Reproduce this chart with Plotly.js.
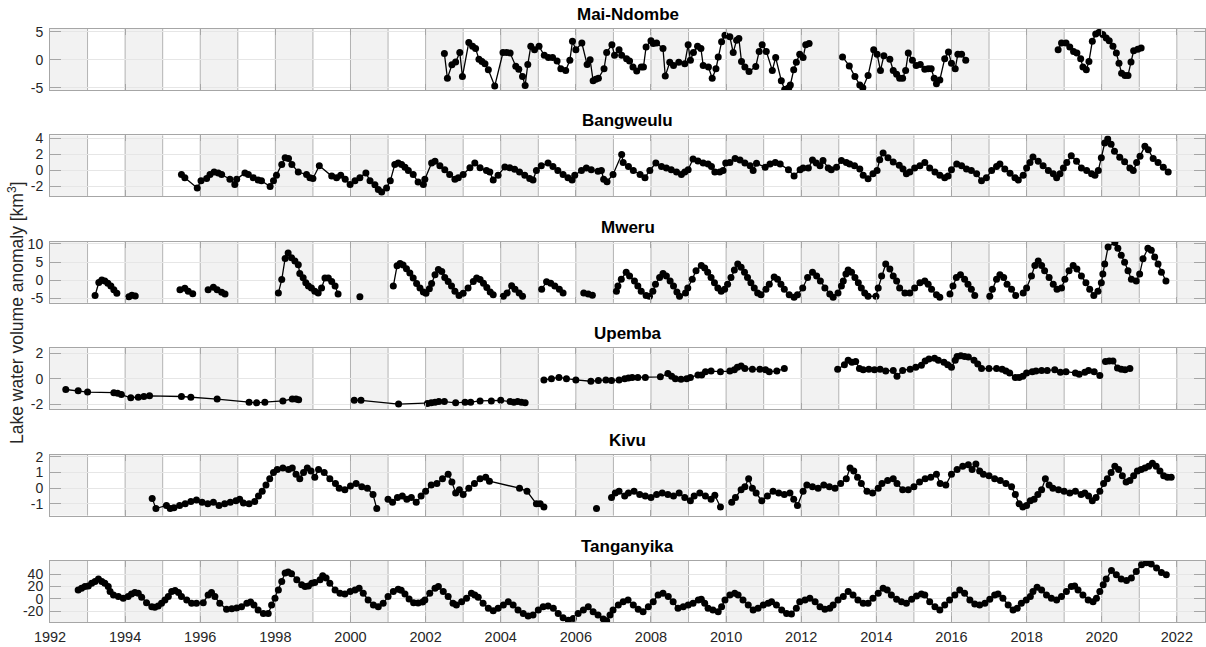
<!DOCTYPE html>
<html>
<head>
<meta charset="utf-8">
<script src="https://cdn.plot.ly/plotly-3.0.1.min.js"></script>
<style>
html,body{margin:0;padding:0;background:#ffffff;}
#chart{width:1206px;height:647px;}
</style>
</head>
<body>
<div id="chart"></div>
<script>
// ---------------- DATA ----------------
// Each lake: list of [decimal year, volume anomaly km^3]; null = break in the line
const lakeNames = ['Mai-Ndombe', 'Bangweulu', 'Mweru', 'Upemba', 'Kivu', 'Tanganyika'];
const xTickYears = [1992,1994,1996,1998,2000,2002,2004,2006,2008,2010,2012,2014,2016,2018,2020,2022];
const xTickLabels = ['1992','1994','1996','1998','2000','2002','2004','2006','2008','2010','2012','2014','2016','2018','2020','2022'];
const yTickValues = [[-5,0,5],[-2,0,2,4],[-5,0,5,10],[-2,0,2],[-1,0,1,2],[-20,0,20,40]];
const yTickLabels = [['-5','0','5'],['-2','0','2','4'],['-5','0','5','10'],['-2','0','2'],['-1','0','1','2'],['-20','0','20','40']];

const maiNdombe = [
[2002.50,1.1],[2002.58,-3.3],[2002.70,-0.9],[2002.80,-0.4],[2002.91,1.3],[2002.98,-3.0],[2003.15,3.1],[2003.25,2.4],[2003.33,2.0],[2003.42,0.1],
[2003.50,-0.3],[2003.58,-0.7],[2003.67,-1.8],[2003.84,-4.7],[2004.06,1.3],[2004.16,1.3],[2004.25,1.2],[2004.40,-1.15],[2004.48,-1.7],[2004.58,-3.0],
[2004.65,-4.6],[2004.72,-0.85],[2004.80,2.4],[2004.90,1.8],[2005.02,2.4],[2005.16,0.8],[2005.27,0.4],[2005.38,0.4],[2005.50,-0.2],[2005.60,-1.6],
[2005.73,-1.9],[2005.84,-0.1],[2005.91,3.3],[2006.00,1.8],[2006.16,3.0],[2006.30,-0.85],[2006.38,0.0],[2006.46,-3.75],[2006.53,-3.5],[2006.60,-3.3],
[2006.75,-1.6],[2006.82,1.3],[2006.96,2.7],[2007.03,0.8],[2007.15,1.8],[2007.22,0.8],[2007.35,0.2],[2007.43,-0.2],[2007.52,-1.3],[2007.62,-2.0],
[2007.74,-1.3],[2007.80,-1.3],[2007.87,2.3],[2008.00,3.4],[2008.06,2.9],[2008.15,3.0],[2008.32,2.0],[2008.38,-2.9],[2008.50,-0.45],[2008.60,-1.0],
[2008.74,-0.45],[2008.90,-0.7],[2008.99,2.7],[2009.05,-0.1],[2009.13,1.3],[2009.24,2.4],[2009.33,2.0],[2009.39,-1.0],[2009.53,-1.3],[2009.63,-3.3],
[2009.73,-1.6],[2009.79,0.5],[2009.88,3.2],[2009.97,4.4],[2010.10,4.1],[2010.19,1.3],[2010.28,3.5],[2010.34,3.8],[2010.41,-0.3],[2010.50,-1.3],
[2010.61,-2.1],[2010.79,-1.2],[2010.88,1.5],[2010.96,2.7],[2011.07,1.5],[2011.23,-1.9],[2011.32,0.4],[2011.47,-3.75],[2011.56,-5.3],[2011.62,-5.2],
[2011.67,-5.0],[2011.71,-4.5],[2011.80,-1.8],[2011.87,-0.45],[2011.96,1.0],[2012.05,0.4],[2012.12,2.7],[2012.21,2.9],
null,
[2013.10,0.5],[2013.28,-1.1],[2013.43,-3.0],[2013.56,-4.5],[2013.64,-5.0],[2013.78,-2.8],[2013.93,1.8],[2014.02,1.0],[2014.11,-1.9],[2014.20,0.7],
[2014.36,0.1],[2014.45,-1.9],[2014.54,-2.6],[2014.62,-3.3],[2014.70,-3.3],[2014.78,-1.9],[2014.85,1.2],[2014.96,-0.1],[2015.06,-1.0],[2015.17,-0.85],
[2015.29,-1.7],[2015.38,-1.6],[2015.46,-1.6],[2015.54,-3.3],[2015.60,-4.3],[2015.69,-3.6],[2015.82,0.2],[2015.92,1.4],[2016.00,-0.6],[2016.10,-1.6],
[2016.17,1.0],[2016.27,1.0],[2016.38,-0.1],
null,
[2018.84,1.8],[2018.93,3.0],[2019.05,3.0],[2019.15,2.3],[2019.25,1.5],[2019.34,1.2],[2019.44,0.2],[2019.50,-1.3],[2019.59,-1.8],[2019.66,-0.3],
[2019.75,3.3],[2019.84,4.6],[2019.93,4.9],[2020.03,4.5],[2020.12,3.9],[2020.20,3.4],[2020.30,2.4],[2020.39,1.2],[2020.46,-0.6],[2020.53,-2.4],
[2020.62,-2.8],[2020.70,-2.8],[2020.78,-0.4],[2020.85,1.6],[2020.96,1.9],[2021.05,2.1]
];

const bangweulu = [
[1995.50,-0.5],[1995.59,-0.9],[1995.92,-2.2],[1996.02,-1.3],[1996.17,-1.0],[1996.26,-0.5],[1996.37,-0.2],[1996.48,-0.3],[1996.57,-0.5],[1996.79,-1.1],
[1996.92,-1.75],[1996.97,-1.1],[1997.19,-0.3],[1997.28,-0.5],[1997.41,-0.9],[1997.54,-1.2],[1997.63,-1.3],[1997.86,-2.0],[1997.95,-1.3],[1998.03,-0.6],
[1998.17,0.75],[1998.26,1.6],[1998.35,1.5],[1998.44,0.75],[1998.61,-0.2],[1998.83,-0.5],[1998.92,-0.9],[1999.00,-1.0],[1999.17,0.6],[1999.50,-0.7],
[1999.63,-0.9],[1999.74,-0.6],[1999.86,-1.1],[1999.99,-1.75],[2000.12,-1.3],[2000.25,-0.9],[2000.41,-0.3],[2000.52,-1.3],[2000.65,-1.8],[2000.74,-2.4],
[2000.83,-2.7],[2000.96,-2.2],[2001.06,-1.3],[2001.18,0.75],[2001.27,0.95],[2001.36,0.75],[2001.45,0.4],[2001.54,0.0],[2001.67,-0.5],[2001.80,-1.45],
[2001.94,-1.75],[2001.98,-1.1],[2002.16,0.95],[2002.25,1.15],[2002.38,0.6],[2002.51,0.1],[2002.64,-0.5],[2002.78,-1.1],[2002.87,-0.9],[2003.00,-0.5],
[2003.18,0.35],[2003.31,0.95],[2003.45,0.35],[2003.62,0.0],[2003.71,-0.2],[2003.80,-1.2],[2003.93,-0.6],[2004.11,0.45],[2004.24,0.35],[2004.37,0.15],
[2004.50,-0.2],[2004.64,-0.6],[2004.77,-1.0],[2004.86,-1.2],[2004.95,0.0],[2005.08,0.6],[2005.26,0.95],[2005.39,0.5],[2005.52,0.0],[2005.66,-0.5],
[2005.79,-0.9],[2005.90,-1.2],[2005.97,-0.6],[2006.15,0.0],[2006.28,0.3],[2006.41,0.1],[2006.59,-0.1],[2006.68,0.0],[2006.74,-1.1],[2006.83,-1.4],
[2006.99,-0.5],[2007.22,2.0],[2007.26,1.0],[2007.40,0.5],[2007.53,0.0],[2007.71,-0.5],[2007.84,-0.9],[2007.97,0.0],[2008.13,0.95],[2008.28,0.5],
[2008.41,0.3],[2008.54,0.1],[2008.68,-0.2],[2008.81,-0.5],[2008.90,-0.2],[2008.99,0.1],[2009.12,1.45],[2009.25,1.2],[2009.39,0.95],[2009.52,0.8],
[2009.61,0.5],[2009.70,-0.2],[2009.83,-0.2],[2009.92,0.0],[2009.99,0.95],[2010.10,1.0],[2010.24,1.5],[2010.37,1.3],[2010.50,0.95],[2010.64,0.6],
[2010.72,0.0],[2010.81,0.9],[2011.04,0.4],[2011.17,0.8],[2011.31,1.0],[2011.44,0.8],[2011.66,0.1],[2011.81,-0.7],[2011.97,0.1],[2012.05,0.3],
[2012.19,0.3],[2012.30,1.3],[2012.40,0.95],[2012.50,0.6],[2012.58,1.25],[2012.72,0.3],[2012.80,0.1],[2012.94,0.4],[2013.07,1.25],[2013.20,1.0],
[2013.29,0.8],[2013.42,0.6],[2013.56,0.2],[2013.65,-0.6],[2013.78,-1.05],[2013.91,-0.4],[2014.02,0.0],[2014.09,1.35],[2014.18,2.2],[2014.31,1.6],
[2014.45,1.05],[2014.61,0.65],[2014.71,0.2],[2014.80,-0.4],[2014.89,-0.2],[2015.02,0.3],[2015.16,0.6],[2015.29,1.0],[2015.42,0.3],[2015.56,-0.2],
[2015.69,-0.6],[2015.82,-0.9],[2015.91,-0.7],[2016.00,0.1],[2016.14,0.8],[2016.27,0.6],[2016.40,0.2],[2016.53,0.0],[2016.67,-0.4],[2016.80,-1.3],
[2016.93,-0.9],[2017.07,0.0],[2017.20,0.5],[2017.29,0.8],[2017.42,0.2],[2017.56,-0.35],[2017.69,-0.9],[2017.78,-1.2],[2017.91,-0.6],[2018.00,0.3],
[2018.09,1.0],[2018.17,1.7],[2018.31,1.15],[2018.44,0.6],[2018.58,0.0],[2018.71,-0.4],[2018.80,-0.9],[2018.89,-0.4],[2018.98,0.3],[2019.07,1.0],
[2019.19,1.85],[2019.33,1.15],[2019.46,0.3],[2019.60,0.0],[2019.73,-0.4],[2019.82,-0.6],[2019.91,0.0],[2019.99,1.6],[2020.08,3.45],[2020.16,3.95],
[2020.25,3.3],[2020.34,2.4],[2020.48,1.65],[2020.61,1.1],[2020.75,0.3],[2020.84,0.0],[2020.93,1.0],[2021.02,1.8],[2021.15,3.05],[2021.24,2.6],
[2021.37,1.5],[2021.50,1.0],[2021.64,0.4],[2021.77,-0.2]
];

const mweru = [
[1993.20,-4.2],[1993.30,-0.6],[1993.38,0.1],[1993.46,-0.2],[1993.54,-0.8],[1993.62,-1.6],[1993.70,-2.6],[1993.78,-3.6],
null,
[1994.10,-4.5],[1994.18,-4.1],[1994.27,-4.3],
null,
[1995.46,-2.6],[1995.59,-2.2],[1995.68,-3.0],[1995.80,-3.7],
null,
[1996.21,-2.6],[1996.35,-1.9],[1996.45,-2.6],[1996.57,-3.3],[1996.66,-3.8],
null,
[1998.08,-3.5],[1998.17,0.2],[1998.26,6.0],[1998.34,7.5],[1998.43,6.2],[1998.52,5.3],[1998.61,4.3],[1998.65,1.9],[1998.74,0.7],[1998.81,-0.7],
[1998.88,-1.6],[1998.96,-2.1],[1999.05,-3.0],[1999.14,-3.5],[1999.23,-2.1],[1999.32,0.6],[1999.41,0.6],[1999.50,-0.3],[1999.59,-1.6],[1999.67,-3.8],
null,
[2000.25,-4.5],
null,
[2001.14,-1.6],[2001.24,4.0],[2001.32,4.6],[2001.40,4.2],[2001.49,3.2],[2001.58,2.0],[2001.67,0.6],[2001.76,-0.9],[2001.85,-2.1],[2001.94,-3.2],
[2002.01,-3.6],[2002.10,-2.3],[2002.16,-0.9],[2002.25,1.5],[2002.34,3.0],[2002.43,2.4],[2002.51,0.8],[2002.60,-0.3],[2002.69,-1.6],[2002.78,-3.0],
[2002.89,-4.2],[2003.00,-3.6],[2003.13,-2.1],[2003.27,-0.3],[2003.36,0.6],[2003.45,0.2],[2003.54,-0.8],[2003.63,-2.0],[2003.72,-3.2],[2003.80,-4.0],
null,
[2004.07,-4.4],[2004.17,-3.5],[2004.29,-1.5],[2004.38,-2.5],[2004.49,-3.5],[2004.58,-4.4],
null,
[2005.09,-2.5],[2005.22,-0.4],[2005.33,-0.8],[2005.44,-1.6],[2005.56,-2.5],[2005.66,-3.5],
null,
[2006.21,-3.5],[2006.33,-3.8],[2006.44,-4.1],
null,
[2007.08,-3.0],[2007.12,-1.6],[2007.21,0.3],[2007.34,2.2],[2007.43,1.2],[2007.56,-0.2],[2007.65,-1.6],[2007.74,-3.0],[2007.87,-4.2],[2007.96,-4.4],
[2008.05,-3.0],[2008.12,-1.1],[2008.23,0.75],[2008.32,1.9],[2008.41,1.2],[2008.51,-0.2],[2008.60,-1.6],[2008.69,-3.2],[2008.76,-4.4],[2008.92,-3.5],
[2008.98,-2.1],[2009.10,0.3],[2009.20,2.6],[2009.34,4.1],[2009.43,3.4],[2009.51,2.2],[2009.60,0.75],[2009.69,-0.7],[2009.78,-2.1],[2009.87,-3.0],
[2009.96,-2.5],[2010.04,-1.1],[2010.13,0.75],[2010.22,2.8],[2010.31,4.5],[2010.40,3.6],[2010.49,2.2],[2010.57,0.75],[2010.66,-0.7],[2010.75,-2.1],
[2010.84,-3.5],[2010.93,-4.0],[2011.06,-2.5],[2011.15,-1.1],[2011.28,0.9],[2011.37,0.3],[2011.46,-1.1],[2011.55,-2.5],[2011.68,-4.0],[2011.81,-4.7],
[2011.90,-4.0],[2012.04,-2.1],[2012.17,0.75],[2012.30,2.2],[2012.41,1.2],[2012.51,-0.2],[2012.63,-2.1],[2012.76,-3.8],[2012.85,-4.7],[2012.98,-3.5],
[2013.07,-1.6],[2013.12,-0.2],[2013.19,1.7],[2013.25,2.8],[2013.34,2.2],[2013.43,0.75],[2013.52,-0.7],[2013.60,-2.1],[2013.69,-3.5],[2013.78,-4.4],
[2013.99,-4.4],[2014.05,-2.1],[2014.14,1.2],[2014.25,4.5],[2014.36,3.1],[2014.45,1.2],[2014.54,-0.2],[2014.62,-2.1],[2014.76,-3.5],[2014.89,-3.5],
[2015.02,-2.1],[2015.16,-0.7],[2015.29,-0.2],[2015.38,-1.1],[2015.47,-2.5],[2015.60,-4.0],[2015.69,-4.7],
null,
[2015.96,-3.8],[2016.04,-1.6],[2016.13,0.75],[2016.24,1.5],[2016.35,0.3],[2016.44,-1.1],[2016.53,-2.5],[2016.62,-4.2],
null,
[2017.02,-4.4],[2017.09,-2.5],[2017.20,0.3],[2017.29,1.5],[2017.39,0.75],[2017.48,-1.1],[2017.60,-2.5],[2017.71,-4.2],
null,
[2017.91,-3.5],[2018.00,-2.1],[2018.13,1.2],[2018.22,4.1],[2018.31,5.3],[2018.40,4.1],[2018.48,2.6],[2018.60,0.75],[2018.71,-1.1],[2018.81,-2.5],
[2018.93,-2.1],[2019.02,0.3],[2019.13,2.6],[2019.24,4.1],[2019.34,3.1],[2019.46,1.2],[2019.58,-0.7],[2019.68,-2.5],[2019.79,-4.2],[2019.90,-3.0],
[2019.99,-0.7],[2020.03,1.7],[2020.08,4.5],[2020.17,9.2],[2020.35,10.4],[2020.43,8.8],[2020.52,6.9],[2020.61,5.0],[2020.70,2.6],[2020.79,0.3],
[2020.92,-0.2],[2021.01,1.7],[2021.10,5.9],[2021.23,8.8],[2021.32,8.3],[2021.41,6.4],[2021.50,4.5],[2021.59,2.2],[2021.71,-0.2]
];

const upemba = [
[1992.42,-0.85],[1992.75,-0.95],[1993.00,-1.05],[1993.70,-1.1],[1993.80,-1.15],[1993.90,-1.25],[1994.15,-1.5],[1994.35,-1.45],[1994.50,-1.4],[1994.65,-1.35],
[1995.50,-1.4],[1995.75,-1.45],[1996.45,-1.6],[1997.30,-1.85],[1997.50,-1.9],[1997.72,-1.85],[1998.20,-1.75],[1998.45,-1.6],[1998.55,-1.6],[1998.62,-1.65],
null,
[2000.10,-1.7],[2000.28,-1.7],[2001.28,-2.0],[2002.05,-1.95],[2002.15,-1.9],[2002.25,-1.85],[2002.35,-1.8],[2002.50,-1.8],[2002.80,-1.9],[2003.05,-1.85],
[2003.20,-1.85],[2003.45,-1.75],[2003.75,-1.75],[2004.00,-1.7],[2004.25,-1.8],[2004.35,-1.85],[2004.45,-1.8],[2004.55,-1.85],[2004.65,-1.9],
null,
[2005.15,-0.1],[2005.35,0.0],[2005.55,0.1],[2005.75,0.0],[2006.00,-0.1],[2006.40,-0.2],[2006.60,-0.15],[2006.80,-0.1],[2006.95,-0.15],[2007.15,-0.1],
[2007.30,0.0],[2007.40,0.05],[2007.50,0.1],[2007.65,0.1],[2007.85,0.1],[2008.25,0.15],[2008.45,0.4],[2008.55,0.2],[2008.65,0.0],[2008.80,-0.05],
[2008.95,0.0],[2009.05,0.1],[2009.25,0.3],[2009.35,0.3],[2009.45,0.55],[2009.60,0.6],[2009.85,0.55],[2010.10,0.6],[2010.22,0.7],[2010.30,0.9],
[2010.40,1.0],[2010.50,0.8],[2010.70,0.75],[2010.90,0.75],[2011.05,0.7],[2011.15,0.55],[2011.35,0.6],[2011.55,0.8],
null,
[2012.97,0.75],[2013.15,1.1],[2013.25,1.45],[2013.35,1.3],[2013.45,1.35],[2013.55,0.8],[2013.65,0.7],[2013.80,0.75],[2013.95,0.7],[2014.10,0.75],
[2014.25,0.6],[2014.45,0.65],[2014.55,0.2],[2014.70,0.65],[2014.90,0.75],[2015.05,0.9],[2015.20,1.05],[2015.30,1.4],[2015.40,1.55],[2015.55,1.6],
[2015.65,1.45],[2015.80,1.3],[2015.90,1.1],[2016.00,0.9],[2016.10,1.45],[2016.15,1.75],[2016.25,1.8],[2016.35,1.75],[2016.45,1.7],[2016.60,1.45],
[2016.70,1.15],[2016.80,0.8],[2017.00,0.8],[2017.20,0.8],[2017.35,0.75],[2017.45,0.6],[2017.55,0.45],[2017.70,0.1],[2017.80,0.1],[2017.90,0.2],
[2018.00,0.45],[2018.15,0.55],[2018.25,0.6],[2018.40,0.65],[2018.55,0.65],[2018.75,0.7],[2018.90,0.5],[2019.05,0.55],[2019.30,0.45],[2019.40,0.35],
[2019.55,0.5],[2019.65,0.65],[2019.80,0.55],[2019.95,0.25],
null,
[2020.10,1.35],[2020.20,1.4],[2020.30,1.4],[2020.42,0.85],[2020.52,0.75],[2020.62,0.7],[2020.75,0.8]
];

const kivu = [
[1994.72,-0.65],[1994.82,-1.3],[1995.10,-1.1],[1995.20,-1.3],[1995.30,-1.25],[1995.45,-1.1],[1995.60,-1.0],[1995.75,-0.85],[1995.90,-0.75],[1996.05,-0.9],
[1996.20,-1.0],[1996.35,-0.9],[1996.50,-1.1],[1996.65,-1.0],[1996.80,-0.9],[1996.95,-0.8],[1997.05,-0.7],[1997.15,-0.95],[1997.30,-1.0],[1997.45,-0.85],
[1997.55,-0.5],[1997.65,-0.2],[1997.75,0.2],[1997.85,0.6],[1997.95,1.0],[1998.05,1.2],[1998.20,1.3],[1998.35,1.2],[1998.45,1.3],[1998.55,0.9],
[1998.65,0.6],[1998.75,1.0],[1998.85,1.3],[1998.95,1.1],[1999.05,0.7],[1999.15,1.2],[1999.30,1.0],[1999.45,0.6],[1999.60,0.3],[1999.70,0.0],
[1999.85,-0.1],[2000.00,0.15],[2000.15,0.3],[2000.30,0.1],[2000.45,0.0],[2000.60,-0.4],[2000.70,-1.3],
null,
[2001.00,-0.7],[2001.12,-0.9],[2001.25,-0.6],[2001.38,-0.5],[2001.50,-0.7],[2001.62,-0.6],[2001.75,-0.9],[2001.88,-0.5],[2002.00,-0.2],[2002.15,0.2],
[2002.30,0.3],[2002.45,0.6],[2002.60,0.9],[2002.70,0.4],[2002.80,-0.3],[2002.90,-0.1],[2003.00,-0.4],[2003.15,0.0],[2003.30,0.3],[2003.45,0.6],
[2003.60,0.7],[2003.70,0.45],[2004.50,0.0],[2004.70,-0.2],[2004.95,-1.0],[2005.05,-1.0],[2005.15,-1.2],
null,
[2006.55,-1.3],
null,
[2006.95,-0.6],[2007.05,-0.3],[2007.15,-0.2],[2007.30,-0.5],[2007.40,-0.3],[2007.55,-0.2],[2007.70,-0.4],[2007.85,-0.5],[2008.00,-0.6],[2008.15,-0.4],
[2008.30,-0.3],[2008.45,-0.4],[2008.60,-0.5],[2008.75,-0.3],[2008.90,-0.6],[2009.05,-0.8],[2009.15,-0.5],[2009.30,-0.3],[2009.45,-0.5],[2009.60,-0.7],
[2009.70,-0.45],[2009.85,-1.2],
null,
[2010.15,-0.9],[2010.25,-0.6],[2010.40,-0.1],[2010.50,0.1],[2010.60,0.6],[2010.70,0.0],[2010.80,-0.3],[2010.95,-0.8],[2011.10,-0.5],[2011.25,-0.2],
[2011.40,-0.3],[2011.55,-0.4],[2011.70,-0.3],[2011.80,-0.7],[2011.90,-1.1],[2012.05,-0.2],[2012.15,0.2],[2012.30,0.1],[2012.45,0.0],[2012.60,0.2],
[2012.75,0.1],[2012.90,0.0],[2013.05,0.3],[2013.20,0.6],[2013.30,1.3],[2013.40,1.1],[2013.50,0.7],[2013.60,0.3],[2013.75,-0.2],[2013.90,-0.3],
[2014.05,0.0],[2014.15,0.3],[2014.30,0.5],[2014.45,0.6],[2014.55,0.3],[2014.70,-0.1],[2014.85,-0.1],[2015.00,0.1],[2015.15,0.4],[2015.30,0.6],
[2015.45,0.7],[2015.60,0.9],[2015.70,0.3],[2015.85,0.2],[2016.00,0.9],[2016.15,1.2],[2016.30,1.4],[2016.45,1.5],[2016.55,1.2],[2016.65,1.55],
[2016.75,1.1],[2016.85,0.9],[2017.00,0.8],[2017.15,0.6],[2017.30,0.5],[2017.45,0.3],[2017.60,0.1],[2017.70,-0.4],[2017.80,-1.0],[2017.90,-1.2],
[2018.00,-1.1],[2018.10,-0.8],[2018.20,-0.7],[2018.30,-0.4],[2018.40,-0.1],[2018.50,0.6],[2018.60,0.2],[2018.70,0.0],[2018.85,-0.1],[2019.00,-0.2],
[2019.15,-0.3],[2019.30,-0.2],[2019.45,-0.4],[2019.55,-0.3],[2019.65,-0.5],[2019.75,-0.8],[2019.85,-0.6],[2019.95,-0.2],[2020.05,0.3],[2020.15,0.6],
[2020.25,1.0],[2020.35,1.4],[2020.45,1.2],[2020.55,0.8],[2020.65,0.4],[2020.75,0.5],[2020.85,0.8],[2020.95,1.1],[2021.05,1.2],[2021.15,1.3],
[2021.25,1.4],[2021.35,1.6],[2021.45,1.4],[2021.55,1.1],[2021.65,0.8],[2021.75,0.7],[2021.85,0.7]
];

const tanganyika = [
[1992.75,14.6],[1992.84,17.3],[1992.93,20],[1993.02,21],[1993.11,25.4],[1993.20,28],[1993.29,31.9],[1993.38,28],[1993.46,25.4],[1993.55,20],
[1993.60,11.9],[1993.69,6.5],[1993.82,3.8],[1993.95,1.1],[1994.08,3.8],[1994.17,8.1],[1994.26,10.3],[1994.35,9.2],[1994.44,2.7],[1994.57,-5.9],
[1994.71,-12.4],[1994.79,-13.5],[1994.88,-11.3],[1994.97,-7],[1995.06,-1.6],[1995.15,3.8],[1995.24,11.9],[1995.33,13.5],[1995.42,10.3],[1995.50,3.8],
[1995.64,-1.6],[1995.77,-7],[1995.90,-7],[1996.08,-5.9],[1996.21,6.5],[1996.30,10.3],[1996.39,3.8],[1996.52,-7],[1996.70,-16.7],[1996.84,-15.7],
[1996.97,-14.6],[1997.10,-12.4],[1997.24,-7],[1997.34,-4.9],[1997.43,-9.7],[1997.54,-17.8],[1997.68,-23.2],[1997.81,-23.2],[1997.90,-9.7],[1997.99,1.1],
[1998.08,14.6],[1998.17,28],[1998.26,41.6],[1998.34,43.2],[1998.43,40.5],[1998.57,30.8],[1998.70,22.7],[1998.79,20],[1998.88,21],[1998.97,25.4],
[1999.05,26.5],[1999.19,30.8],[1999.26,37.3],[1999.35,33.5],[1999.45,25.4],[1999.59,14.6],[1999.72,9.2],[1999.85,8.1],[1999.99,11.9],[2000.12,14.6],
[2000.23,17.3],[2000.34,9.2],[2000.47,-1.6],[2000.61,-9.7],[2000.74,-12.4],[2000.87,-7],[2001.00,3.8],[2001.14,11.9],[2001.27,15.7],[2001.35,14],
[2001.45,8],[2001.56,0],[2001.68,-5.9],[2001.80,-6.5],[2001.92,-5],[2001.98,-1.6],[2002.11,9.2],[2002.25,17.3],[2002.34,20],[2002.47,11.9],
[2002.60,3.8],[2002.73,-7],[2002.82,-9.7],[2002.96,-4.3],[2003.09,1.1],[2003.22,9.2],[2003.31,6.5],[2003.40,2.7],[2003.53,-7],[2003.67,-15.1],
[2003.80,-18.9],[2003.93,-15.1],[2004.07,-9.7],[2004.20,-4.3],[2004.33,-9.7],[2004.46,-17.8],[2004.60,-23.2],[2004.73,-27.5],[2004.86,-25.9],[2005.00,-17.8],
[2005.13,-12.4],[2005.26,-11.3],[2005.40,-15.1],[2005.53,-23.2],[2005.66,-30],[2005.80,-34],[2005.93,-31.3],[2006.06,-23.2],[2006.20,-17.8],[2006.33,-12.4],
[2006.46,-20.5],[2006.59,-25.9],[2006.73,-32],[2006.82,-35],
null,
[2006.91,-25.9],[2006.99,-17.8],[2007.13,-9.7],[2007.26,-4.3],[2007.39,-1.6],[2007.53,-9.7],[2007.66,-16.7],[2007.79,-20.5],[2007.93,-12.4],[2008.06,-4.3],
[2008.19,6.5],[2008.32,9.2],[2008.46,3.8],[2008.59,-4.3],[2008.72,-15.1],[2008.86,-12.4],[2008.99,-9.7],[2009.12,-7],[2009.26,-1.6],[2009.34,-0.5],
[2009.43,-7],[2009.52,-15.1],[2009.65,-17.8],[2009.79,-20.5],[2009.88,-12.4],[2009.97,-1.6],[2010.10,6.5],[2010.23,9.2],[2010.32,6.5],[2010.45,-1.6],
[2010.59,-9.7],[2010.72,-17.8],[2010.85,-15.1],[2010.99,-9.7],[2011.12,-7],[2011.21,-4.3],[2011.34,-9.7],[2011.48,-17.8],[2011.61,-23.2],[2011.74,-24.3],
[2011.87,-15.1],[2011.96,-4.3],[2012.10,-1.6],[2012.23,1.1],[2012.37,-4.3],[2012.50,-12.4],[2012.63,-16.7],[2012.76,-15.1],[2012.85,-9.7],[2012.98,-1.6],
[2013.12,3.8],[2013.25,11.9],[2013.38,6.5],[2013.51,-1.6],[2013.65,-7],[2013.78,-7],[2013.91,1.1],[2014.05,9.2],[2014.18,17.3],[2014.29,14.6],
[2014.40,6.5],[2014.54,-0.5],[2014.67,-4.3],[2014.80,-7],[2014.94,-0.5],[2015.07,4.9],[2015.20,8.1],[2015.29,6.5],[2015.42,-4.3],[2015.56,-12.4],
[2015.69,-17.8],[2015.82,-9.7],[2015.95,-1.6],[2016.09,6.5],[2016.22,14.6],[2016.35,9.2],[2016.49,-1.6],[2016.62,-8.1],[2016.75,-9.7],[2016.89,-7],
[2017.02,-0.5],[2017.15,6.5],[2017.24,8.1],[2017.37,1.1],[2017.51,-9.7],[2017.64,-17.8],[2017.75,-15.1],[2017.86,-7],[2017.99,-1.6],[2018.10,3.8],
[2018.17,11.9],[2018.28,18.9],[2018.40,14.6],[2018.53,6.5],[2018.66,1.1],[2018.80,-1.6],[2018.93,3.8],[2019.06,11.9],[2019.19,20],[2019.28,21],
[2019.37,14.6],[2019.50,6.5],[2019.64,-1.6],[2019.77,-4.3],[2019.86,1.1],[2019.95,11.9],[2020.04,22.7],[2020.12,31.9],[2020.26,45.9],[2020.39,38.9],
[2020.52,31.9],[2020.66,29.7],[2020.79,33.5],[2020.92,44.3],[2021.06,55.1],[2021.19,58],[2021.32,56],[2021.46,49.7],[2021.59,42.7],[2021.72,38.9]
];

const lakeSeries = [maiNdombe, bangweulu, mweru, upemba, kivu, tanganyika];

// ---------------- LAYOUT CONFIG ----------------
const W = 1206, H = 647;
const marginL = 50, marginR = 1;
const panelTops = [29, 135.4, 241.8, 348.2, 454.6, 561];
const panelHeight = 61;
const xRange = [1992, 2022.75];
const yRanges = [[-5.4, 5.5], [-3.25, 4.4], [-6.2, 10.6], [-2.4, 2.4], [-1.75, 2.15], [-37, 61]];
const FONT = '"Liberation Sans", Arial, Helvetica, sans-serif';
const AXIS_GRAY = '#a6a6a6';

const layout = {
  width: W, height: H,
  margin: {l: marginL, r: marginR, t: 0, b: 0, pad: 0},
  paper_bgcolor: '#ffffff',
  plot_bgcolor: 'rgba(0,0,0,0)',
  showlegend: false,
  hovermode: false,
  font: {family: FONT, size: 14, color: '#262626'},
  shapes: [],
  annotations: []
};
const traces = [];

lakeNames.forEach((name, i) => {
  const n = i + 1;
  const xa = n === 1 ? 'xaxis' : 'xaxis' + n;
  const ya = n === 1 ? 'yaxis' : 'yaxis' + n;
  const xr = n === 1 ? 'x' : 'x' + n;
  const yr = n === 1 ? 'y' : 'y' + n;
  const top = panelTops[i], bottom = top + panelHeight;
  const dom = [1 - bottom / H, 1 - top / H];

  layout[xa] = {
    domain: [0, 1], anchor: yr, range: xRange, type: 'linear',
    tickmode: 'array', tickvals: xTickYears, ticktext: xTickLabels,
    showticklabels: n === 6,
    ticks: 'inside', ticklen: 6, tickcolor: AXIS_GRAY, tickwidth: 1,
    showline: true, linecolor: AXIS_GRAY, linewidth: 1, mirror: 'ticks',
    showgrid: false, zeroline: false,
    tickfont: {family: FONT, size: 14.5, color: '#262626'},
    ticklabelstandoff: 2
  };
  if (n > 1) layout[xa].matches = 'x';

  layout[ya] = {
    domain: dom, anchor: xr, range: yRanges[i], type: 'linear',
    tickmode: 'array', tickvals: yTickValues[i], ticktext: yTickLabels[i],
    ticks: 'inside', ticklen: 11, tickcolor: AXIS_GRAY, tickwidth: 1,
    showline: true, linecolor: AXIS_GRAY, linewidth: 1, mirror: 'ticks',
    showgrid: true, gridcolor: '#e6e6e6', gridwidth: 1, zeroline: false,
    tickfont: {family: FONT, size: 14, color: '#262626'},
    ticklabelstandoff: 3
  };

  // alternating yearly gray bands (even years)
  for (let yy = 1992; yy < xRange[1]; yy += 2) {
    layout.shapes.push({
      type: 'rect', xref: xr, yref: yr + ' domain', layer: 'below',
      x0: yy, x1: Math.min(yy + 1, xRange[1]), y0: 0, y1: 1,
      fillcolor: '#f2f2f2', line: {width: 0}
    });
  }
  // yearly vertical lines
  for (let yy = 1993; yy <= 2022; yy++) {
    layout.shapes.push({
      type: 'line', xref: xr, yref: yr + ' domain', layer: 'below',
      x0: yy, x1: yy, y0: 0, y1: 1,
      line: {color: '#b3b3b3', width: 1}
    });
  }

  // panel title
  layout.annotations.push({
    text: '<b>' + name + '</b>', xref: 'paper', yref: 'paper',
    x: 0.5, y: 1 - (top - 3) / H, xanchor: 'center', yanchor: 'bottom',
    showarrow: false, font: {family: FONT, size: 17, color: '#000000'}
  });

  const pts = lakeSeries[i];
  traces.push({
    type: 'scatter', mode: 'lines+markers',
    x: pts.map(p => p ? p[0] : null),
    y: pts.map(p => p ? p[1] : null),
    xaxis: xr, yaxis: yr,
    connectgaps: false,
    line: {color: '#000000', width: 1.3},
    marker: {color: '#000000', size: 7, line: {width: 0}},
    hoverinfo: 'skip'
  });
});

// shared y-axis label
layout.annotations.push({
  text: 'Lake water volume anomaly [km<sup>3</sup>]',
  xref: 'paper', yref: 'paper',
  x: (16 - marginL) / (W - marginL - marginR), y: 1 - 313 / H,
  xanchor: 'center', yanchor: 'middle', textangle: -90,
  showarrow: false, font: {family: FONT, size: 17.5, color: '#262626'}
});

Plotly.newPlot('chart', traces, layout, {staticPlot: true, displayModeBar: false});
</script>
</body>
</html>
